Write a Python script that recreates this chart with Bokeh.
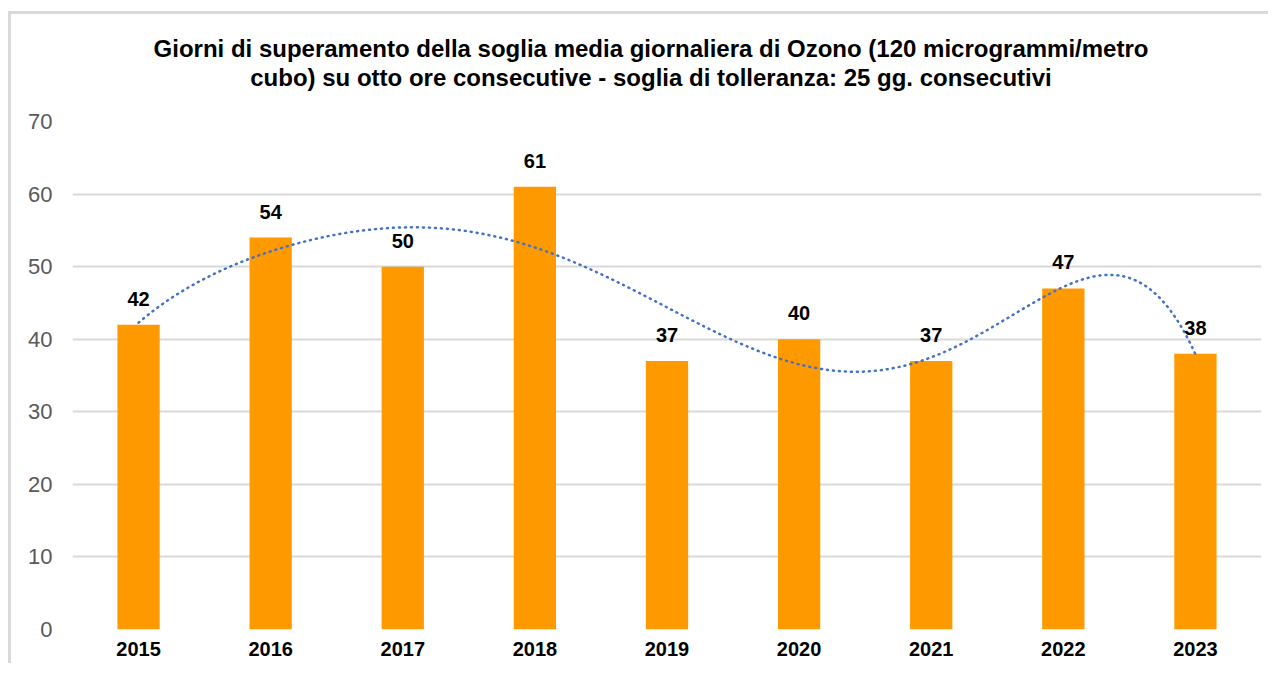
import numpy as np
from bokeh.plotting import figure
from bokeh.models import ColumnDataSource, FactorRange, Range1d, Title, FixedTicker, CategoricalAxis
from bokeh.core.properties import value
from bokeh.embed import file_html
from bokeh.resources import INLINE

# ---- data ----
years = ["2015", "2016", "2017", "2018", "2019", "2020", "2021", "2022", "2023"]
days = [42, 54, 50, 61, 37, 40, 37, 47, 38]
y_ticks = [0, 10, 20, 30, 40, 50, 60, 70]
title_lines = ["Giorni di superamento della soglia media giornaliera di Ozono (120 microgrammi/metro",
               "cubo) su otto ore consecutive - soglia di tolleranza: 25 gg. consecutivi"]
trend_order = 6  # polynomial trendline order (as in the spreadsheet)

FONT = "Liberation Sans"
BAR = "#FF9900"
GRID = "#D9D9D9"

src = ColumnDataSource(dict(year=years, days=days, label=[str(d) for d in days]))

p = figure(width=1268, height=663,
           x_range=FactorRange(factors=years, range_padding=0),
           y_range=Range1d(0, 70),
           output_backend="svg", toolbar_location=None, title=None,
           min_border_left=72, min_border_right=7, min_border_top=121, min_border_bottom=34,
           outline_line_color=None, background_fill_color="white", border_fill_color=None)

# light grey chart-area border (left and top edges)
p.styles = {
    "background-color": "white",
    "background-image": f"linear-gradient({GRID}, {GRID}), linear-gradient({GRID}, {GRID})",
    "background-repeat": "no-repeat",
    "background-position": "8px 11px, 8px 11px",
    "background-size": "3px 100%, 100% 3px",
}

# invisible spacer between plot area and title (an empty axis)
spacer = CategoricalAxis(major_tick_out=31, major_tick_in=0, major_label_standoff=0,
                         major_label_overrides={y: "" for y in years},
                         major_label_text_font_size="1px", major_label_text_alpha=0,
                         axis_line_color=None, major_tick_line_color=None, minor_tick_line_color=None,
                         minor_tick_out=0)
p.add_layout(spacer, "above")

for line in reversed(title_lines):
    p.add_layout(Title(text=line, align="center", standoff=0,
                       padding=dict(left=0, right=32, top=0, bottom=0),
                       text_font=FONT, text_font_size="24px", text_font_style="bold",
                       text_color="black"), "above")

# grid / axes
p.xgrid.grid_line_color = None
p.yaxis.ticker = FixedTicker(ticks=y_ticks)
p.ygrid.grid_line_color = GRID
p.ygrid.grid_line_width = 2

xax = p.below[0]
for ax in (xax, p.yaxis[0]):
    ax.axis_line_color = None
    ax.major_tick_line_color = None
    ax.minor_tick_line_color = None
    ax.major_tick_out = 0
    ax.major_tick_in = 0
    ax.minor_tick_out = 0
    ax.major_label_text_font = FONT

p.yaxis.major_label_text_font_size = "22px"
p.yaxis.major_label_text_color = "#595959"
p.yaxis.major_label_standoff = 20

xax.major_label_text_font_size = "20px"
xax.major_label_text_font_style = "bold"
xax.major_label_text_color = "black"
xax.major_label_standoff = 12

# bars
p.vbar(x="year", top="days", width=0.32, source=src, fill_color=BAR, line_color=None)

# polynomial trendline fitted on the bar values
xi = np.arange(len(days)) + 0.5
coef = np.polyfit(xi, np.array(days, dtype=float), trend_order)
xs = np.linspace(xi[0], xi[-1], 300)
ys = np.polyval(coef, xs)
p.line(xs, ys, line_color="#4472C4", line_width=2.5, line_dash="1 5", line_cap="round")

# data labels
p.text(x="year", y="days", text="label", source=src, text_align="center", text_baseline="alphabetic",
       y_offset=-26, text_font=value(FONT), text_font_size="20px", text_font_style="bold", text_color="black")

open("out.html", "w").write(file_html(p, INLINE))
